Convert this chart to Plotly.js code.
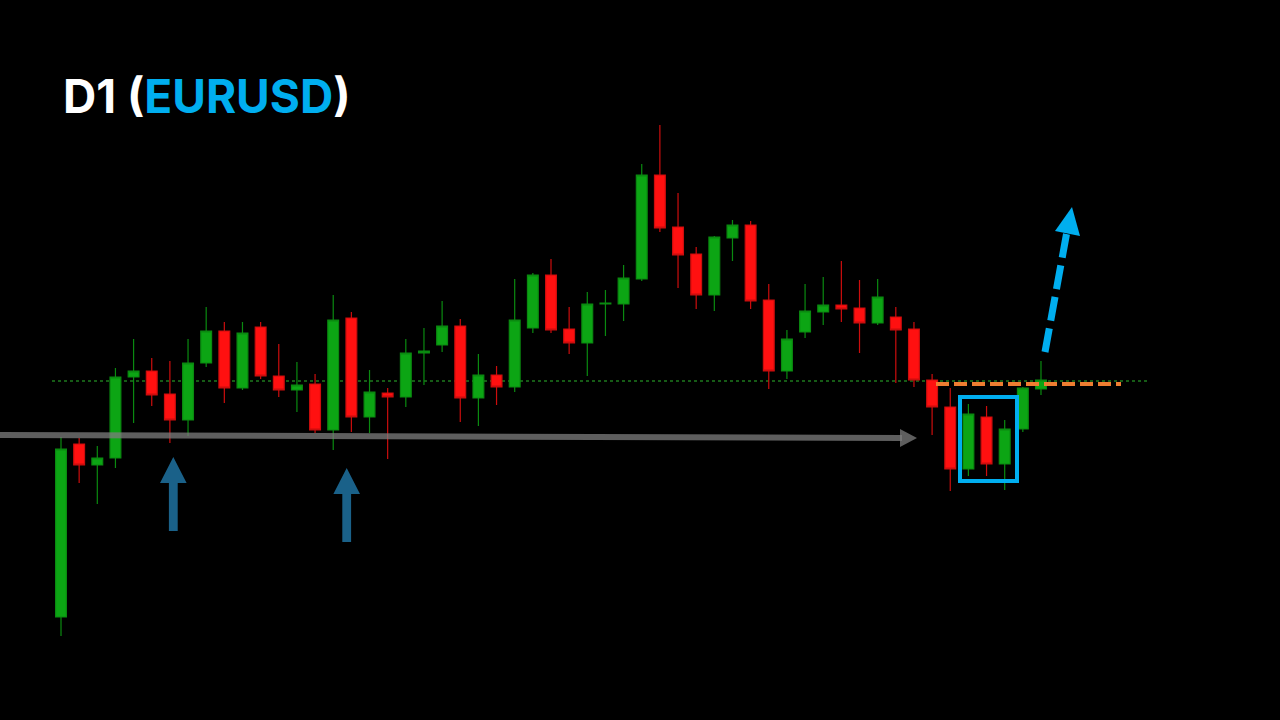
<!DOCTYPE html>
<html>
<head>
<meta charset="utf-8">
<script src="https://cdn.plot.ly/plotly-3.0.1.min.js"></script>
<style>
html,body{margin:0;padding:0;background:#000;}
#chart{width:1280px;height:720px;}
</style>
</head>
<body>
<div id="chart"></div>
<script>
// Daily EURUSD candles (index of trading day)
const days = Array.from({length: 55}, (_, i) => i);
const openP = [1.0103,1.0276,1.0255,1.0262,1.0343,1.0349,1.0326,1.0300,1.0357,1.0389,
               1.0332,1.0393,1.0344,1.0330,1.0336,1.0290,1.0402,1.0303,1.0327,1.0323,
               1.0367,1.0375,1.0394,1.0322,1.0345,1.0333,1.0392,1.0445,1.0391,1.0377,
               1.0416,1.0416,1.0441,1.0545,1.0493,1.0466,1.0425,1.0482,1.0495,1.0420,
               1.0349,1.0388,1.0408,1.0415,1.0412,1.0397,1.0403,1.0391,1.0340,1.0313,
               1.0251,1.0303,1.0256,1.0291,1.0331];
const highP = [1.0283,1.0282,1.0274,1.0352,1.0381,1.0362,1.0359,1.0381,1.0413,1.0398,
               1.0398,1.0398,1.0376,1.0358,1.0346,1.0425,1.0408,1.0350,1.0332,1.0381,
               1.0392,1.0419,1.0401,1.0366,1.0354,1.0441,1.0447,1.0461,1.0413,1.0428,
               1.0430,1.0455,1.0556,1.0595,1.0527,1.0473,1.0484,1.0500,1.0499,1.0436,
               1.0390,1.0436,1.0443,1.0459,1.0440,1.0441,1.0413,1.0398,1.0346,1.0332,
               1.0316,1.0314,1.0300,1.0333,1.0359];
const lowP  = [1.0084,1.0237,1.0216,1.0252,1.0297,1.0314,1.0277,1.0284,1.0353,1.0317,
               1.0330,1.0341,1.0323,1.0308,1.0287,1.0270,1.0288,1.0287,1.0261,1.0313,
               1.0335,1.0368,1.0298,1.0294,1.0315,1.0328,1.0387,1.0387,1.0366,1.0344,
               1.0384,1.0399,1.0439,1.0488,1.0432,1.0411,1.0409,1.0459,1.0411,1.0331,
               1.0341,1.0382,1.0395,1.0398,1.0367,1.0395,1.0337,1.0333,1.0285,1.0229,
               1.0244,1.0244,1.0230,1.0288,1.0325];
const closeP = [1.0271,1.0255,1.0262,1.0343,1.0349,1.0325,1.0300,1.0357,1.0389,1.0332,
                1.0387,1.0344,1.0330,1.0335,1.0290,1.0400,1.0303,1.0328,1.0323,1.0367,
                1.0369,1.0394,1.0322,1.0345,1.0333,1.0400,1.0445,1.0390,1.0377,1.0416,
                1.0417,1.0442,1.0545,1.0492,1.0465,1.0425,1.0483,1.0495,1.0419,1.0349,
                1.0381,1.0409,1.0415,1.0411,1.0397,1.0423,1.0390,1.0340,1.0313,1.0251,
                1.0306,1.0256,1.0291,1.0332,1.0340];

// Key levels
const supportLevel = 1.0339;   // dotted green level
const breakoutLevel = 1.0336;  // orange dashed level

const W = 1280, H = 720;
const X = px => px / W;
const Y = py => 1 - py / H;

const trace = {
  type: 'candlestick',
  x: days, open: openP, high: highP, low: lowP, close: closeP,
  increasing: {fillcolor: '#0ca514', line: {color: '#0a8a10', width: 1.2}},
  decreasing: {fillcolor: '#ff1010', line: {color: '#cc0d0d', width: 1.2}},
  whiskerwidth: 0,
  hoverinfo: 'skip',
  showlegend: false
};

function upArrow(cx, tip, base, bottom, color) {
  const sh = 4.4, hh = 13.3;
  return {type: 'path', xref: 'paper', yref: 'paper', fillcolor: color, line: {width: 0},
    path: `M ${X(cx)},${Y(tip)} L ${X(cx + hh)},${Y(base)} L ${X(cx + sh)},${Y(base)} L ${X(cx + sh)},${Y(bottom)} L ${X(cx - sh)},${Y(bottom)} L ${X(cx - sh)},${Y(base)} L ${X(cx - hh)},${Y(base)} Z`};
}

const gray = 'rgba(125,125,125,0.75)';
const shapes = [
  {type: 'line', xref: 'paper', yref: 'y', x0: X(52), x1: X(1148), y0: supportLevel, y1: supportLevel,
   line: {color: '#1e7a1e', width: 1.5, dash: 'dot'}, layer: 'below'},
  {type: 'line', xref: 'paper', yref: 'paper', x0: X(0), y0: Y(435), x1: X(902), y1: Y(438),
   line: {color: gray, width: 6}},
  {type: 'path', xref: 'paper', yref: 'paper', fillcolor: gray, line: {width: 0},
   path: `M ${X(900)},${Y(429)} L ${X(917)},${Y(438)} L ${X(900)},${Y(447)} Z`},
  upArrow(173.3, 457, 483, 531, '#1a6189'),
  upArrow(346.7, 468, 494, 542, '#1a6189'),
  {type: 'line', xref: 'paper', yref: 'y', x0: X(936), x1: X(1121), y0: breakoutLevel, y1: breakoutLevel,
   line: {color: '#ee7d31', width: 4, dash: '13px,5px'}},
  {type: 'rect', xref: 'paper', yref: 'paper', x0: X(960), x1: X(1017), y0: Y(397), y1: Y(481),
   line: {color: '#00aeef', width: 4}},
  {type: 'line', xref: 'paper', yref: 'paper', x0: X(1045), y0: Y(352), x1: X(1066.5), y1: Y(234),
   line: {color: '#00aeef', width: 7, dash: '24px,8px'}},
  {type: 'path', xref: 'paper', yref: 'paper', fillcolor: '#00aeef', line: {width: 0},
   path: `M ${X(1072)},${Y(207)} L ${X(1055)},${Y(231)} L ${X(1080)},${Y(236)} Z`}
];

const layout = {
  width: W, height: H,
  margin: {l: 0, r: 0, t: 0, b: 0},
  paper_bgcolor: '#000', plot_bgcolor: '#000',
  showlegend: false,
  boxgap: 0.15,
  xaxis: {visible: false, range: [-61 / 18.148, (1280 - 61) / 18.148], rangeslider: {visible: false}, fixedrange: true},
  yaxis: {visible: false, range: [1.0, 1.072], fixedrange: true},
  shapes: shapes,
  annotations: [{
    xref: 'paper', yref: 'paper', x: X(61), y: Y(96), xanchor: 'left', yanchor: 'middle',
    showarrow: false,
    text: 'D1 (<span style="color:#00aeef">EURUSD</span>)',
    font: {family: 'Inter, Roboto, sans-serif', size: 46, color: '#ffffff', weight: 700}
  }]
};

Plotly.newPlot('chart', [trace], layout, {displayModeBar: false, staticPlot: true});
</script>
</body>
</html>
